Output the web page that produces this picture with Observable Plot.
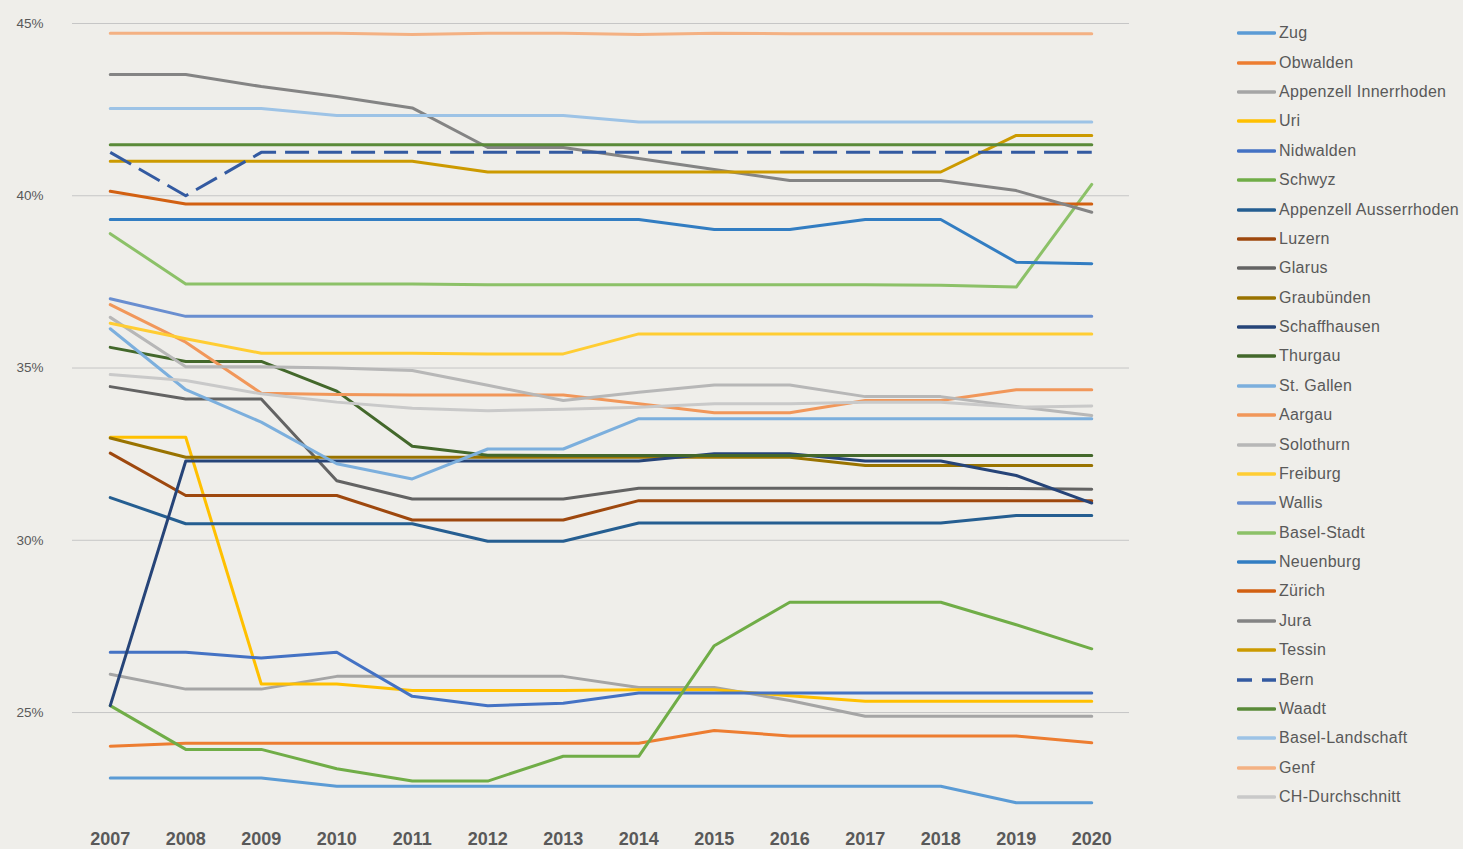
<!DOCTYPE html>
<html><head><meta charset="utf-8">
<script src="https://cdn.jsdelivr.net/npm/d3@7"></script>
<script src="https://cdn.jsdelivr.net/npm/@observablehq/plot@0.6"></script>
<style>
html,body{margin:0;padding:0;background:#EFEEEA;}
#wrap{position:relative;width:1463px;height:849px;overflow:hidden;font-family:"Liberation Sans",Arial,sans-serif;}
#legend{position:absolute;left:1237px;top:18.6px;}
.row{display:flex;align-items:center;height:29.385px;}
.row svg{width:39px;height:6px;margin-right:3px;flex:none;}
.row span{font-size:16px;letter-spacing:0.3px;color:#595959;white-space:nowrap;}
</style></head><body><div id="wrap"><div id="legend"></div></div>
<script>
const years = ["2007","2008","2009","2010","2011","2012","2013","2014","2015","2016","2017","2018","2019","2020"];
const yTicks = [25, 30, 35, 40, 45];

const names = ["Zug","Obwalden","Appenzell Innerrhoden","Uri","Nidwalden","Schwyz","Appenzell Ausserrhoden","Luzern","Glarus","Graubünden","Schaffhausen","Thurgau","St. Gallen","Aargau","Solothurn","Freiburg","Wallis","Basel-Stadt","Neuenburg","Zürich","Jura","Tessin","Bern","Waadt","Basel-Landschaft","Genf","CH-Durchschnitt"];
const colors = ["#5B9BD5","#ED7D31","#A5A5A5","#FFC000","#4472C4","#70AD47","#255E91","#9E480E","#636363","#997300","#264478","#43682B","#7CAFDD","#F1975A","#B7B7B7","#FFCD33","#698ED0","#8CC168","#327DC2","#D26012","#848484","#CC9A00","#335AA1","#5A8A39","#9DC3E6","#F4B183","#C9C9C9"];

// values in percent, 2007..2020
const zug          = [23.1,23.1,23.1,22.86,22.86,22.86,22.86,22.86,22.86,22.86,22.86,22.86,22.38,22.38];
const obwalden     = [24.02,24.11,24.11,24.11,24.11,24.11,24.11,24.11,24.48,24.32,24.32,24.32,24.32,24.12];
const appInner     = [26.11,25.68,25.68,26.05,26.05,26.05,26.05,25.73,25.73,25.35,24.89,24.89,24.89,24.89];
const uri          = [32.99,32.99,25.83,25.83,25.64,25.64,25.64,25.66,25.66,25.49,25.33,25.33,25.33,25.33];
const nidwalden    = [26.75,26.75,26.58,26.75,25.47,25.2,25.27,25.57,25.57,25.57,25.57,25.57,25.57,25.57];
const schwyz       = [25.2,23.93,23.93,23.37,23.01,23.01,23.73,23.73,26.94,28.2,28.2,28.2,27.55,26.85];
const appAusser    = [31.24,30.48,30.48,30.48,30.48,29.97,29.97,30.5,30.5,30.5,30.5,30.5,30.72,30.72];
const luzern       = [32.53,31.3,31.3,31.3,30.59,30.59,30.59,31.15,31.15,31.15,31.15,31.15,31.15,31.15];
const glarus       = [34.46,34.1,34.1,31.73,31.2,31.2,31.2,31.51,31.51,31.51,31.51,31.51,31.5,31.48];
const graubuenden  = [32.97,32.41,32.41,32.41,32.41,32.41,32.41,32.41,32.41,32.41,32.17,32.17,32.17,32.17];
const schaffhausen = [25.2,32.3,32.3,32.3,32.3,32.3,32.3,32.3,32.51,32.51,32.3,32.3,31.88,31.08];
const thurgau      = [35.6,35.19,35.19,34.33,32.73,32.47,32.46,32.46,32.46,32.46,32.46,32.46,32.46,32.46];
const stGallen     = [36.14,34.37,33.43,32.22,31.78,32.65,32.65,33.53,33.53,33.53,33.53,33.53,33.53,33.53];
const aargau       = [36.84,35.75,34.27,34.23,34.22,34.22,34.22,33.96,33.7,33.7,34.06,34.06,34.37,34.37];
const solothurn    = [36.47,35.04,35.04,35.0,34.93,34.5,34.06,34.3,34.51,34.51,34.17,34.17,33.88,33.62];
const freiburg     = [36.3,35.85,35.43,35.43,35.43,35.41,35.41,35.99,35.99,35.99,35.99,35.99,35.99,35.99];
const wallis       = [37.01,36.5,36.5,36.5,36.5,36.5,36.5,36.5,36.5,36.5,36.5,36.5,36.5,36.5];
const baselStadt   = [38.9,37.44,37.44,37.44,37.44,37.42,37.42,37.42,37.42,37.42,37.42,37.4,37.35,40.33];
const neuenburg    = [39.31,39.31,39.31,39.31,39.31,39.31,39.31,39.31,39.02,39.02,39.31,39.31,38.07,38.03];
const zuerich      = [40.13,39.76,39.76,39.76,39.76,39.76,39.76,39.76,39.76,39.76,39.76,39.76,39.76,39.76];
const jura         = [43.52,43.52,43.17,42.88,42.55,41.4,41.4,41.08,40.76,40.44,40.44,40.44,40.15,39.52];
const tessin       = [41.0,41.0,41.0,41.0,41.0,40.69,40.69,40.69,40.69,40.69,40.69,40.69,41.75,41.75];
const bern         = [41.26,40.0,41.26,41.26,41.26,41.26,41.26,41.26,41.26,41.26,41.26,41.26,41.26,41.26];
const waadt        = [41.48,41.48,41.48,41.48,41.48,41.48,41.48,41.48,41.48,41.48,41.48,41.48,41.48,41.48];
const baselLand    = [42.53,42.53,42.53,42.33,42.33,42.33,42.33,42.14,42.14,42.14,42.14,42.14,42.14,42.14];
const genf         = [44.72,44.72,44.72,44.72,44.68,44.72,44.72,44.68,44.72,44.7,44.7,44.7,44.7,44.7];
const chSchnitt    = [34.81,34.64,34.25,34.01,33.83,33.76,33.8,33.86,33.96,33.96,34.01,34.01,33.86,33.9];

const seriesValues = [zug,obwalden,appInner,uri,nidwalden,schwyz,appAusser,luzern,glarus,graubuenden,schaffhausen,thurgau,stGallen,aargau,solothurn,freiburg,wallis,baselStadt,neuenburg,zuerich,jura,tessin,bern,waadt,baselLand,genf,chSchnitt];

const table = names.flatMap((name, i) => years.map((year, j) => ({name, year, value: seriesValues[i][j]})));

const font = '"Liberation Sans", Arial, sans-serif';

const lineMarks = names.map(n => Plot.line(table.filter(d => d.name === n), {
  x: "year", y: "value", stroke: "name", strokeWidth: 3,
  strokeLinejoin: "round",
  strokeLinecap: n === "Bern" ? "butt" : "round",
  strokeDasharray: n === "Bern" ? "24,9" : null
}));

const chart = Plot.plot({
  width: 1463, height: 849,
  marginLeft: 72, marginRight: 334, marginTop: 23, marginBottom: 33.6,
  style: {background: "transparent", fontFamily: font, overflow: "visible"},
  x: {type: "point", domain: years, padding: 0.5, round: false},
  y: {domain: [22, 45]},
  color: {domain: names, range: colors},
  marks: [
    Plot.gridY(yTicks, {stroke: "#C6C6C6", strokeOpacity: 1, strokeWidth: 1}),
    Plot.axisY(yTicks, {tickSize: 0, tickPadding: 29, fontSize: 13.5, fill: "#595959", tickFormat: d => d + "%", label: null}),
    Plot.axisX({tickSize: 0, tickPadding: 16, fontSize: 18, fontWeight: "bold", fill: "#595959", label: null}),
    ...lineMarks
  ]
});
document.getElementById("wrap").prepend(chart);

// legend
const legend = d3.select("#legend");
names.forEach((n, i) => {
  const row = legend.append("div").attr("class", "row");
  const svg = row.append("svg").attr("viewBox", "0 0 39 6");
  svg.append("line").attr("x1", n === "Bern" ? 0 : 1.5).attr("x2", n === "Bern" ? 39 : 37.5)
    .attr("y1", 3).attr("y2", 3)
    .attr("stroke", colors[i]).attr("stroke-width", 3.5)
    .attr("stroke-linecap", n === "Bern" ? "butt" : "round")
    .attr("stroke-dasharray", n === "Bern" ? "15,10" : null);
  row.append("span").text(n);
});
</script></body></html>
